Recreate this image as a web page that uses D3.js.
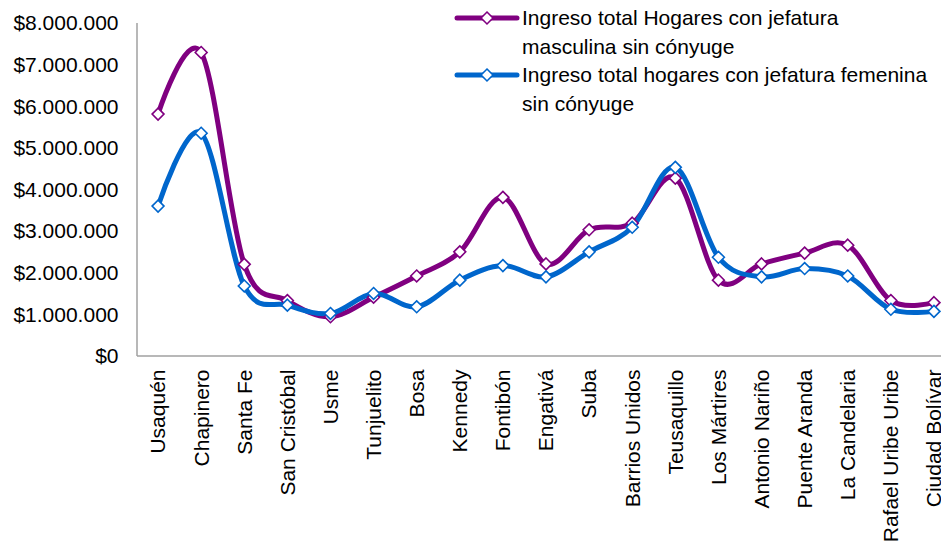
<!DOCTYPE html>
<html><head><meta charset="utf-8">
<script src="https://cdn.jsdelivr.net/npm/d3@7"></script>
<style>body{margin:0;background:#fff;overflow:hidden}svg{display:block}text{font-family:"Liberation Sans",Arial,sans-serif;fill:#000}</style>
</head><body>
<script>
const categories = ["Usaquén","Chapinero","Santa Fe","San Cristóbal","Usme","Tunjuelito","Bosa","Kennedy","Fontibón","Engativá","Suba","Barrios Unidos","Teusaquillo","Los Mártires","Antonio Nariño","Puente Aranda","La Candelaria","Rafael Uribe Uribe","Ciudad Bolívar"];
const masculina = [5800000,7280000,2190000,1320000,930000,1400000,1910000,2490000,3800000,2200000,3020000,3180000,4260000,1810000,2200000,2460000,2650000,1320000,1270000];
const femenina = [3590000,5340000,1670000,1210000,1010000,1490000,1170000,1810000,2160000,1890000,2490000,3080000,4520000,2360000,1890000,2090000,1910000,1110000,1060000];
const yTicks = [0,1000000,2000000,3000000,4000000,5000000,6000000,7000000,8000000];
const seriesNames = ["Ingreso total Hogares con jefatura|masculina sin cónyuge","Ingreso total hogares con jefatura femenina|sin cónyuge"];
const colors = ["#800080","#0066CC"];

(function(){
const W=941,H=544;
const svg=d3.select("body").append("svg").attr("width",W).attr("height",H);
const pL=136.5, pR=955.5, pT=22.5, pB=355.5;
const x=d3.scaleBand().domain(categories).range([pL,pR]).padding(0);
const y=d3.scaleLinear().domain([0,8000000]).range([pB,pT]);
const fmt=v=>"$"+d3.format(",")(v).replace(/,/g,".");

const ya=svg.append("g").attr("transform",`translate(${pL},0)`).call(d3.axisLeft(y).tickValues(yTicks).tickSize(0).tickPadding(18).tickFormat(fmt));
ya.select(".domain").attr("stroke","#a0a0a0").attr("stroke-width",1.5);
ya.selectAll("text").style("font-size","21px").attr("dy","0.35em");
const xa=svg.append("g").attr("transform",`translate(0,${pB})`).call(d3.axisBottom(x).tickSize(0).tickPadding(0));
xa.select(".domain").attr("stroke","#a0a0a0").attr("stroke-width",1.5);
xa.selectAll("text").style("font-size","21px").attr("text-anchor","end").attr("transform","translate(0,14) rotate(-90)").attr("dx",0).attr("dy","0.35em").attr("x",0).attr("y",0);

const cx=d=>x(d)+x.bandwidth()/2;
const line=d3.line().x((d,i)=>cx(categories[i])).y(d=>y(d)).curve(d3.curveCatmullRom.alpha(0));
[masculina,femenina].forEach((s,k)=>{
  svg.append("path").datum(s).attr("d",line).attr("fill","none").attr("stroke",colors[k]).attr("stroke-width",5).attr("stroke-linejoin","round");
});
const diamond=d3.symbol().type(d3.symbolDiamond2).size(90);
[masculina,femenina].forEach((s,k)=>{
  svg.append("g").selectAll("path").data(s).join("path").attr("d",diamond)
    .attr("transform",(d,i)=>`translate(${cx(categories[i])},${y(d)})`)
    .attr("fill","#fff").attr("stroke",colors[k]).attr("stroke-width",1.6);
});

const lg=svg.append("g");
seriesNames.forEach((n,k)=>{
  const ly=18+k*57;
  lg.append("line").attr("x1",457).attr("x2",517).attr("y1",ly).attr("y2",ly).attr("stroke",colors[k]).attr("stroke-width",5).attr("stroke-linecap","round");
  lg.append("path").attr("d",diamond).attr("transform",`translate(487,${ly})`).attr("fill","#fff").attr("stroke",colors[k]).attr("stroke-width",1.6);
  n.split("|").forEach((t,j)=>{
    lg.append("text").attr("x",522).attr("y",ly+j*29).attr("dy","0.35em").style("font-size","21px").text(t);
  });
});
})();
</script>
</body></html>
